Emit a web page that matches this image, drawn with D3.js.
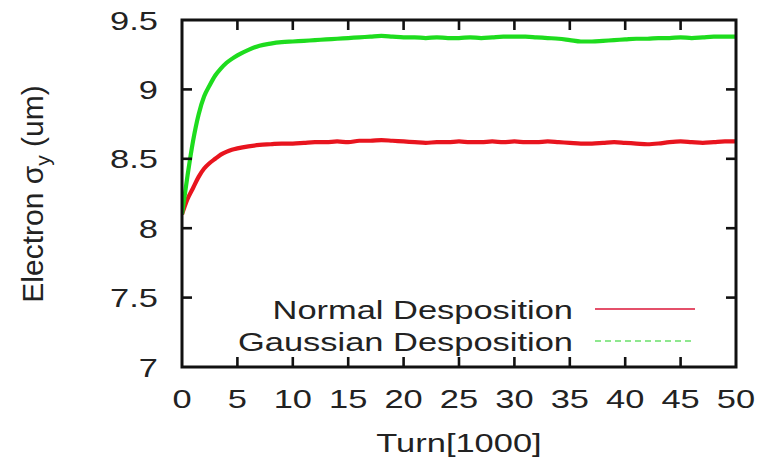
<!DOCTYPE html>
<html><head><meta charset="utf-8">
<script src="https://cdn.jsdelivr.net/npm/d3@7"></script>
<style>html,body{margin:0;padding:0;background:#fff;}svg{display:block;}</style>
</head><body>
<svg id="chart" width="764" height="461"></svg>
<script>
const turns = [0,0.5,1,1.5,2,2.5,3,3.5,4,4.5,5,6,7,8,9,10,11,12,13,14,15,16,17,18,19,20,21,22,23,24,25,26,27,28,29,30,31,32,33,34,35,36,37,38,39,40,41,42,43,44,45,46,47,48,49,50];
const normalSigma = [8.10,8.21,8.29,8.37,8.43,8.47,8.50,8.53,8.55,8.565,8.575,8.59,8.60,8.605,8.61,8.61,8.615,8.62,8.62,8.625,8.62,8.63,8.63,8.635,8.63,8.625,8.62,8.615,8.62,8.62,8.625,8.62,8.62,8.625,8.62,8.625,8.62,8.62,8.625,8.62,8.615,8.61,8.61,8.615,8.62,8.615,8.61,8.605,8.61,8.62,8.625,8.62,8.615,8.62,8.625,8.625];
const gaussSigma = [8.10,8.38,8.63,8.82,8.95,9.03,9.10,9.15,9.19,9.22,9.245,9.285,9.315,9.33,9.34,9.345,9.35,9.355,9.36,9.365,9.37,9.375,9.38,9.385,9.38,9.375,9.375,9.37,9.375,9.37,9.37,9.375,9.37,9.375,9.38,9.38,9.38,9.375,9.37,9.365,9.355,9.345,9.345,9.35,9.355,9.36,9.365,9.365,9.37,9.37,9.375,9.37,9.375,9.38,9.38,9.38];
const xTicks = [0,5,10,15,20,25,30,35,40,45,50];
const yTicks = [7,7.5,8,8.5,9,9.5];
const seriesNames = ["Normal Desposition","Gaussian Desposition"];
const seriesColors = ["#e8141e","#1edc1e"];
const legendColors = ["#e4506a","#8ee88e"];

const svg = d3.select("#chart");
const L = 182, R = 736, T = 20, B = 367;
const x = d3.scaleLinear().domain([0,50]).range([L,R]);
const y = d3.scaleLinear().domain([7,9.5]).range([B,T]);
const font = "'Liberation Sans', Arial, Helvetica, sans-serif";
const SX = 1.3, FS = 26.5;

function htext(tx, ty, str, anchor) {
  const g = svg.append("g").attr("transform", `translate(${tx},${ty}) scale(${SX},1)`);
  g.append("text").attr("x",0).attr("y",0).attr("text-anchor",anchor)
    .attr("font-family",font).attr("font-size",FS).attr("fill","#222").text(str);
  return g;
}

svg.append("clipPath").attr("id","clip").append("rect")
  .attr("x",L).attr("y",T).attr("width",R-L).attr("height",B-T);

const line = d3.line().curve(d3.curveMonotoneX).x((d,i)=>x(turns[i])).y(d=>y(d));
const plot = svg.append("g").attr("clip-path","url(#clip)");
[normalSigma, gaussSigma].forEach((s,k)=>{
  plot.append("path").datum(s).attr("d",line).attr("fill","none")
    .attr("stroke",seriesColors[k]).attr("stroke-width",4.2).attr("stroke-linejoin","round");
});

// ticks (inward, mirrored)
const tl = 10;
const tg = svg.append("g").attr("stroke","#111").attr("stroke-width",2.6);
xTicks.forEach(t=>{
  if (t===0||t===50) return;
  tg.append("line").attr("x1",x(t)).attr("x2",x(t)).attr("y1",B).attr("y2",B-tl);
  tg.append("line").attr("x1",x(t)).attr("x2",x(t)).attr("y1",T).attr("y2",T+tl);
});
yTicks.forEach(t=>{
  if (t===7||t===9.5) return;
  tg.append("line").attr("x1",L).attr("x2",L+tl).attr("y1",y(t)).attr("y2",y(t));
  tg.append("line").attr("x1",R).attr("x2",R-tl).attr("y1",y(t)).attr("y2",y(t));
});
svg.append("rect").attr("x",L).attr("y",T).attr("width",R-L).attr("height",B-T)
  .attr("fill","none").attr("stroke","#111").attr("stroke-width",3);

// tick labels
yTicks.forEach(t=> htext(158, y(t)+9.5, String(t), "end"));
xTicks.forEach(t=> htext(x(t), 408, String(t), "middle"));

// axis titles
htext((L+R)/2, 452, "Turn[1000]", "middle");
const yt = svg.append("text").attr("transform","translate(43,194) rotate(-90)")
  .attr("text-anchor","middle").attr("font-family",font).attr("font-size",30).attr("fill","#222");
yt.append("tspan").text("Electron σ");
yt.append("tspan").attr("font-size",21).attr("dy",7).text("y");
yt.append("tspan").attr("dy",-7).text(" (um)");

// legend
const legY = [309, 341];
seriesNames.forEach((n,k)=>{
  htext(573, legY[k]+10, n, "end");
  svg.append("line").attr("x1",595).attr("x2",695).attr("y1",legY[k]).attr("y2",legY[k])
    .attr("stroke",legendColors[k]).attr("stroke-width",2)
    .attr("stroke-dasharray", k===1 ? "6,4" : null);
});
</script>
</body></html>
